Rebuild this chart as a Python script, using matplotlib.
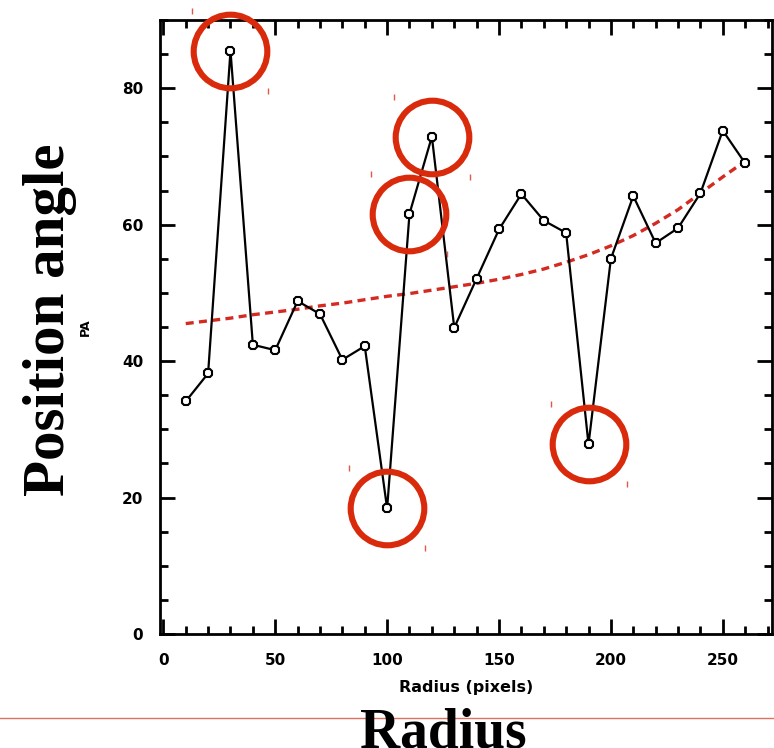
import matplotlib
matplotlib.use("Agg")
import matplotlib.pyplot as plt
import matplotlib.transforms as mtransforms

# Data
radius = [10, 20, 30, 40, 50, 60, 70, 80, 90, 100, 110, 120, 130,
          140, 150, 160, 170, 180, 190, 200, 210, 220, 230, 240, 250, 260]
pa = [34.1, 38.2, 85.5, 42.4, 41.6, 48.8, 46.9, 40.2, 42.2, 18.4, 61.6, 72.9, 44.9,
      52.1, 59.3, 64.5, 60.6, 58.8, 27.8, 55.0, 64.2, 57.3, 59.5, 64.6, 73.8, 69.0]
fit = [45.5, 45.9, 46.3, 46.8, 47.2, 47.6, 48.1, 48.5, 49.0, 49.5, 49.9, 50.4, 50.9,
       51.4, 52.0, 52.7, 53.5, 54.5, 55.6, 56.9, 58.4, 60.2, 62.2, 64.6, 67.0, 69.3]
circled_x = [30, 120, 110, 100, 190]
circled_y = [85.5, 72.9, 61.6, 18.4, 27.8]
xticks = [0, 50, 100, 150, 200, 250]
yticks = [0, 20, 40, 60, 80]

DPI = 100
fig = plt.figure(figsize=(7.74, 7.48), dpi=DPI)
fig.patch.set_facecolor("white")
ax = fig.add_axes([160 / 774, 1 - 634 / 748, 612 / 774, 614 / 748])

ax.plot(radius, fit, color="#d42a22", lw=2.4, ls=(0, (2.4, 1.6)), zorder=2)
ax.plot(radius, pa, color="black", lw=1.6, marker="8", ms=6.8, mfc="white",
        mec="black", mew=1.5, zorder=3)

ax.set_xlim(-1.5, 272)
ax.set_ylim(0, 90)
ax.set_xticks(xticks)
ax.set_yticks(yticks)
ax.set_xticks(range(0, 271, 10), minor=True)
ax.set_yticks(range(0, 91, 5), minor=True)
ax.tick_params(which="both", direction="in", top=True, right=True, width=2,
               labelsize=11)
ax.tick_params(axis="x", which="major", pad=14)
ax.tick_params(axis="y", which="major", pad=12)
ax.tick_params(which="major", length=11)
ax.tick_params(which="minor", length=6)
for lab in ax.get_xticklabels() + ax.get_yticklabels():
    lab.set_fontweight("bold")
for s in ax.spines.values():
    s.set_linewidth(2)

ax.set_xlabel("Radius (pixels)", fontsize=11.5, fontweight="bold", labelpad=8)
ax.set_ylabel("PA", fontsize=9, fontweight="bold", labelpad=22)

# Red annotation circles
ax.plot(circled_x, circled_y, ls="none", marker="o", ms=53,
        mfc="none", mec="#d92a0c", mew=4.4, zorder=5, clip_on=False)
# small red corner marks
r = 38 / DPI
for dx, dy in [(-r, r + 0.02), (r, -r - 0.02)]:
    off = mtransforms.ScaledTranslation(dx, dy, fig.dpi_scale_trans)
    ax.plot(circled_x, circled_y, ls="none", marker="|", ms=5, mec="#e05a4a",
            mew=1, transform=ax.transData + off, clip_on=False, zorder=5)

# Overlay annotations
fig.text(50 / 774, 1 - 320 / 748, "Position angle", rotation=90, ha="center",
         va="center", fontsize=42.5, fontweight="bold", family="Liberation Serif")
fig.text(443 / 774, 1 / 748, "Radius", ha="center", va="baseline",
         fontsize=40, fontweight="bold", family="Liberation Serif")
fig.add_artist(plt.Line2D([0, 1], [1 - 718 / 748, 1 - 718 / 748],
                          transform=fig.transFigure, color="#e07060", lw=1))

fig.savefig("out.png", dpi=DPI)
